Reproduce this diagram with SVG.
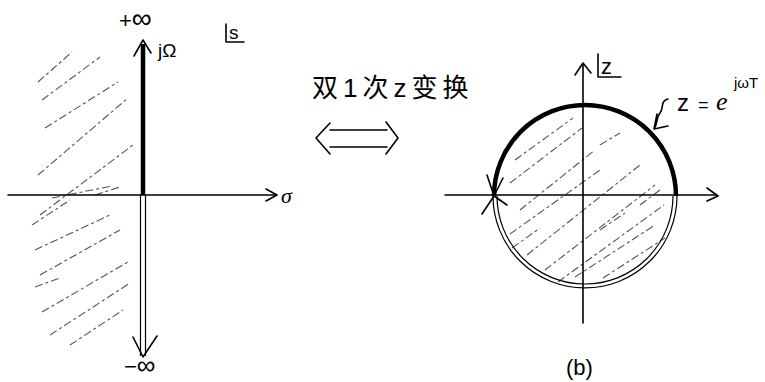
<svg xmlns="http://www.w3.org/2000/svg" width="765" height="382" viewBox="0 0 765 382">
<style>
.ln{stroke:#000;stroke-width:1.6;fill:none;stroke-linecap:round;stroke-linejoin:round}
.thin{stroke:#000;stroke-width:1.2;fill:none}
.thick{stroke:#000;stroke-width:4.5;fill:none}
.hatch{stroke:#555;stroke-width:1.1;fill:none;stroke-dasharray:8 3 3 3}
.t{font-family:"Liberation Sans","Noto Sans CJK SC",sans-serif;fill:#000}
.ti{font-family:"Liberation Serif","Noto Sans CJK SC",serif;font-style:italic;fill:#000}
</style>
<rect width="765" height="382" fill="#fff"/>
<g id="s-plane">
  <g id="s-hatch">
    <path class="hatch" d="M38 82L72 52M42 100L100 57M45 128L118 82M38 175L128 98M40 215L133 145M52 198L112 186M95 195L120 187M32 225L70 200M35 250L110 215M40 275L120 230M35 287L60 278M42 312L128 262M50 335L130 283M70 345L123 310"/>
  </g>
  <g id="s-axes">
    <path class="ln" d="M8 195H276"/>
    <path class="ln" d="M266 189L277 195L266 201"/>
    <path class="thick" d="M143 44V195"/>
    <path class="ln" d="M134 56L143 40L151 53" stroke-width="2.4"/>
    <path class="thin" d="M140.5 195V356M145.5 195V356"/>
    <path class="ln" d="M133 337L143 357L157 336" stroke-width="2"/>
  </g>
  <text class="t" x="119" y="28" font-size="22">+<tspan font-size="28">∞</tspan></text>
  <text class="t" x="158" y="57" font-size="19">jΩ</text>
  <path class="ln" d="M226 24V42H244"/>
  <text class="t" x="229" y="39" font-size="19">s</text>
  <text class="ti" x="281" y="203" font-size="22">σ</text>
  <text class="t" x="124" y="374" font-size="22">−<tspan font-size="26">∞</tspan></text>
</g>
<g id="transform">
  <text class="t" x="312" y="97" font-size="26" letter-spacing="5">双1次z变换</text>
  <path class="ln" d="M330 130H387M330 147H387"/>
  <path class="ln" d="M330 123L316 138L330 154M386 122L398 138L386 154"/>
</g>
<g id="z-plane">
  <g id="z-hatch">
    <path class="hatch" d="M515 160L573 118M510 183L582 128M520 210L595 150M510 234L600 170M527 255L640 165M545 270L655 185M558 282L664 205M575 277L655 225M603 278L665 238M512 248L540 228M640 205L660 190M600 230L625 213M600 145L620 133"/>
  </g>
  <path class="ln" d="M445 195H716"/>
  <path class="ln" d="M707 188L718 196L707 201"/>
  <path class="ln" d="M583 64V323"/>
  <path class="ln" d="M575 75L583 63L591 73"/>
  <path class="thick" d="M494 196A90 90 0 0 1 676 196" stroke-width="4"/>
  <path class="thin" d="M493 196A91 91 0 0 0 677 196M497 196A87.5 87.5 0 0 0 673 196"/>
  <path class="ln" d="M487 175L494 196L503 178M494 196L482 214M494 196L507 205" stroke-width="2"/>
  <path class="ln" d="M598 54V77H621"/>
  <text class="t" x="601" y="74" font-size="22">z</text>
  <path class="ln" d="M668 99C660 101 664 108 660 113C656 118 658 123 654 129M654 129L668 126M654 129L657 114" stroke-width="1.4"/>
  <text class="t" x="677" y="111" font-size="24">z</text>
  <text class="t" x="698" y="111" font-size="18">=</text>
  <text class="ti" x="716" y="110" font-size="26">e</text>
  <text class="t" x="734" y="88" font-size="15">jωT</text>
  <text class="t" x="566" y="375" font-size="22">(b)</text>
</g>
</svg>
